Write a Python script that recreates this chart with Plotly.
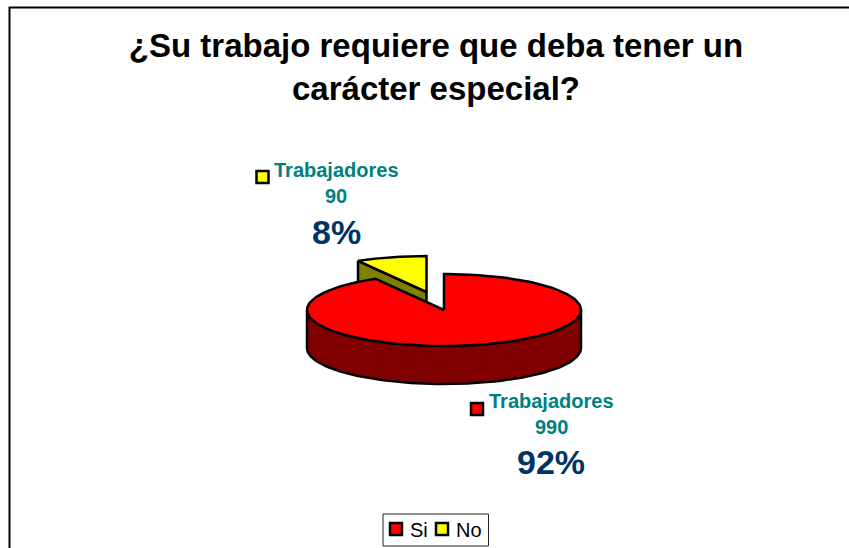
import numpy as np
import plotly.graph_objects as go

categories = ["Si", "No"]
values = [990, 90]
series_name = "Trabajadores"
title = "¿Su trabajo requiere que deba tener un<br>carácter especial?"

W, H = 849, 548
CX, CY, RX, RY, DEPTH = 444, 310, 137, 36, 38
EXPLODE = (-17.5, -18)
top_colors = ["#FF0000", "#FFFF00"]
side_colors = ["#800000", "#808000"]
TEAL, NAVY = "#008080", "#003366"
FONT = "Liberation Sans"

total = sum(values)
sweeps = [v / total * 360 for v in values]


def arc(a0, a1, cx, cy):
    t = np.radians(np.linspace(a0, a1, 181))
    return cx + RX * np.sin(t), cy - RY * np.cos(t)


def poly(fig, xs, ys, color):
    fig.add_trace(go.Scatter(x=list(xs), y=list(ys), mode="lines", fill="toself",
                             fillcolor=color, line=dict(color="black", width=2.5),
                             showlegend=False, hoverinfo="skip"))


fig = go.Figure()

# exploded slice (No)
a0, a1 = sweeps[0], 360
cx, cy = CX + EXPLODE[0], CY + EXPLODE[1]
ax, ay = arc(a0, a1, cx, cy)
poly(fig, [ax[0], cx, cx, ax[0], ax[0]], [ay[0], cy, cy + DEPTH, ay[0] + DEPTH, ay[0]], side_colors[1])
poly(fig, [cx, *ax, cx], [cy, *ay, cy], top_colors[1])

# main slice (Si)
a0, a1 = 0, sweeps[0]
ax, ay = arc(90, 270, CX, CY)
poly(fig, [*ax, *ax[::-1], ax[0]], [*ay, *(ay[::-1] + DEPTH), ay[0]], side_colors[0])
ax, ay = arc(a0, a1, CX, CY)
poly(fig, [CX, *ax, CX], [CY, *ay, CY], top_colors[0])

# data-label keys and legend keys
keys = [(477, 409), (262.5, 177)]
legend_keys = [(396, 529), (442, 529)]
legend_text_x = [407.5, 453.5]
for name, k, lk, c in zip(categories, keys, legend_keys, top_colors):
    fig.add_trace(go.Scatter(x=[k[0], lk[0]], y=[k[1], lk[1]], mode="markers", name=name,
                             marker=dict(symbol="square", size=12, color=c,
                                         line=dict(color="black", width=2.5)),
                             showlegend=False, hoverinfo="skip"))

label_pos = [(551, 401, 427, 462), (336, 170, 196, 232)]
pct_sizes = [34, 34]
ann = []
for v, (lx, y1, y2, y3), ps in zip(values, label_pos, pct_sizes):
    ann.append(dict(x=lx, y=y1, text=series_name, font=dict(family=FONT, size=20, color=TEAL)))
    ann.append(dict(x=lx, y=y2, text=str(v), font=dict(family=FONT, size=20, color=TEAL)))
    ann.append(dict(x=lx, y=y3, text=f"{round(v / total * 100)}%", font=dict(family=FONT, size=ps, color=NAVY)))
for a in ann:
    a.update(xref="x", yref="y", showarrow=False, xanchor="center", yanchor="middle")
    a["text"] = f"<b>{a['text']}</b>"
for name, tx in zip(categories, legend_text_x):
    ann.append(dict(x=tx, y=529.5, text=name, xref="x", yref="y", showarrow=False,
                    xanchor="left", yanchor="middle",
                    font=dict(family=FONT, size=20, color="black")))

fig.update_layout(
    width=W, height=H, autosize=False,
    margin=dict(l=0, r=0, t=0, b=0),
    paper_bgcolor="white", plot_bgcolor="white",
    title=dict(text=f"<b>{title}</b>", x=436 / W, xanchor="center", y=1 - 57 / H, yanchor="top",
               font=dict(family=FONT, size=33, color="black")),
    xaxis=dict(range=[0, W], visible=False, fixedrange=True),
    yaxis=dict(range=[H, 0], visible=False, fixedrange=True),
    annotations=ann,
    showlegend=False,
    shapes=[
        dict(type="rect", xref="x", yref="y", x0=9.5, y0=7.5, x1=860, y1=560,
             line=dict(color="black", width=2), layer="below"),
        dict(type="rect", xref="x", yref="y", x0=383, y0=514, x1=488.5, y1=546,
             line=dict(color="#222222", width=1), fillcolor="white", layer="below"),
    ],
)
fig.write_html("out.html", config={"displayModeBar": False},
               post_script="document.body.style.margin='0';document.body.style.overflow='hidden';")
